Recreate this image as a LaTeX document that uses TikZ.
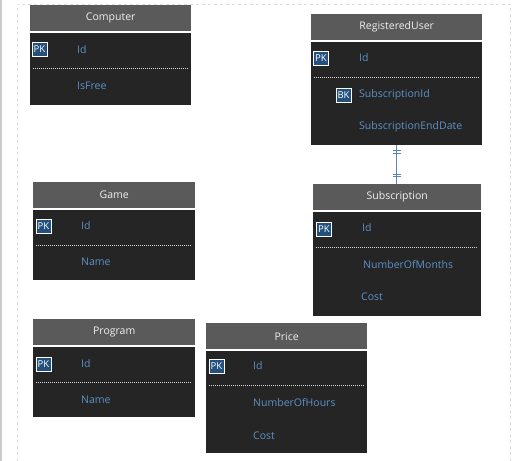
\documentclass[tikz,border=0pt]{standalone}
\usepackage{fontspec}
\setmainfont{Open Sans}
\usepackage{tikz}
\usetikzlibrary{positioning, calc}
\definecolor{hdrcolor}{RGB}{90, 90, 90}
\definecolor{bodycolor}{RGB}{37, 37, 37}
\definecolor{fieldcolor}{RGB}{92, 146, 200}
\definecolor{keycolor}{RGB}{36, 80, 125}
\definecolor{relcolor}{RGB}{88, 134, 184}
\definecolor{framecolor}{RGB}{200, 203, 207}
\definecolor{dashcolor}{RGB}{222, 222, 222}

\begin{document}
\begin{tikzpicture}[x=1pt, y=-1pt,
    hdr/.style={fill=hdrcolor, text=white!94!black, anchor=north west, minimum height=26pt,
        inner sep=0pt, font=\fontsize{10.5}{12}\selectfont},
    body/.style={fill=bodycolor, anchor=north west, inner sep=0pt},
    fld/.style={text=fieldcolor, anchor=west, inner sep=0pt, font=\fontsize{10.5}{12}\selectfont},
    keybox/.style={draw=white, fill=keycolor, text=white, line width=0.9pt, inner sep=0pt,
        minimum width=15pt, minimum height=14pt, font=\fontsize{9.5}{11}\selectfont},
    sep/.style={draw=white!85!black, dash pattern=on 1pt off 1pt, line width=0.6pt},
    rel/.style={draw=relcolor, line width=1pt}]
\useasboundingbox (0,0) rectangle (520,461);
\fill[white] (0,0) rectangle (520,461);
% page frame
\draw[framecolor, line width=1.5pt] (1,0) -- (1,461);
\draw[dashcolor, dashed, line width=0.8pt] (17,461) -- (17,4) -- (510,4) -- (510,461);

% Computer
\node[hdr, minimum width=161pt] (comph) at (30,5) {Computer};
\node[body, minimum width=161pt, minimum height=72pt] (compb) at ([yshift=-1.5pt]comph.south west) {};
\node[keybox] (compk) at (39.5,49) {PK};
\node[fld] (compid) at (77,50) {Id};
\draw[sep] (33,68) -- (188,68);
\node[fld] (compfree) at (77,86) {IsFree};

% RegisteredUser
\node[hdr, minimum width=171pt] (regh) at (311,14) {RegisteredUser};
\node[body, minimum width=171pt, minimum height=103pt] (regb) at ([yshift=-1.5pt]regh.south west) {};
\node[keybox] (regk) at (321,58) {PK};
\node[fld] (regid) at (359,58) {Id};
\draw[sep] (314,77) -- (479,77);
\node[keybox] (regbk) at (343.5,95) {BK};
\node[fld] (regsub) at (359,95) {SubscriptionId};
\node[fld] (regend) at (359,127) {SubscriptionEndDate};

% Subscription
\node[hdr, minimum width=168pt] (subh) at (313,184) {Subscription};
\node[body, minimum width=168pt, minimum height=104pt] (subb) at ([yshift=-1.5pt]subh.south west) {};
\node[keybox] (subk) at (324,229) {PK};
\node[fld] (subid) at (362,228) {Id};
\draw[sep] (316,247) -- (478,247);
\node[fld] (submonths) at (363,265) {NumberOfMonths};
\node[fld] (subcost) at (361,297) {Cost};

% Game
\node[hdr, minimum width=162pt] (gameh) at (33,182) {Game};
\node[body, minimum width=162pt, minimum height=70pt] (gameb) at ([yshift=-1.5pt]gameh.south west) {};
\node[keybox] (gamek) at (43.5,226) {PK};
\node[fld] (gameid) at (81,226) {Id};
\draw[sep] (36,245) -- (192,245);
\node[fld] (gamename) at (81,262) {Name};

% Program
\node[hdr, minimum width=162pt] (progh) at (33,319) {Program};
\node[body, minimum width=162pt, minimum height=70pt] (progb) at ([yshift=-1.5pt]progh.south west) {};
\node[keybox] (progk) at (43.5,364) {PK};
\node[fld] (progid) at (81,364) {Id};
\draw[sep] (36,382) -- (192,382);
\node[fld] (progname) at (81,400) {Name};

% Price
\node[hdr, minimum width=161pt] (priceh) at (206,323) {Price};
\node[body, minimum width=161pt, minimum height=102pt] (priceb) at ([yshift=-1.5pt]priceh.south west) {};
\node[keybox] (pricek) at (216.5,366) {PK};
\node[fld] (priceid) at (253,366) {Id};
\draw[sep] (209,385) -- (364,385);
\node[fld] (pricehours) at (253,403) {NumberOfHours};
\node[fld] (pricecost) at (253,436) {Cost};

% one-to-one link
\draw[rel] (regb.south) -- coordinate[pos=0.14] (t1) coordinate[pos=0.21] (t2)
    coordinate[pos=0.74] (t3) coordinate[pos=0.81] (t4) (subh.north -| regb.south);
\foreach \t in {t1,t2,t3,t4} {
    \draw[rel, line width=0.8pt] ([xshift=-4pt]\t) -- ([xshift=4pt]\t);
}
\end{tikzpicture}
\end{document}
